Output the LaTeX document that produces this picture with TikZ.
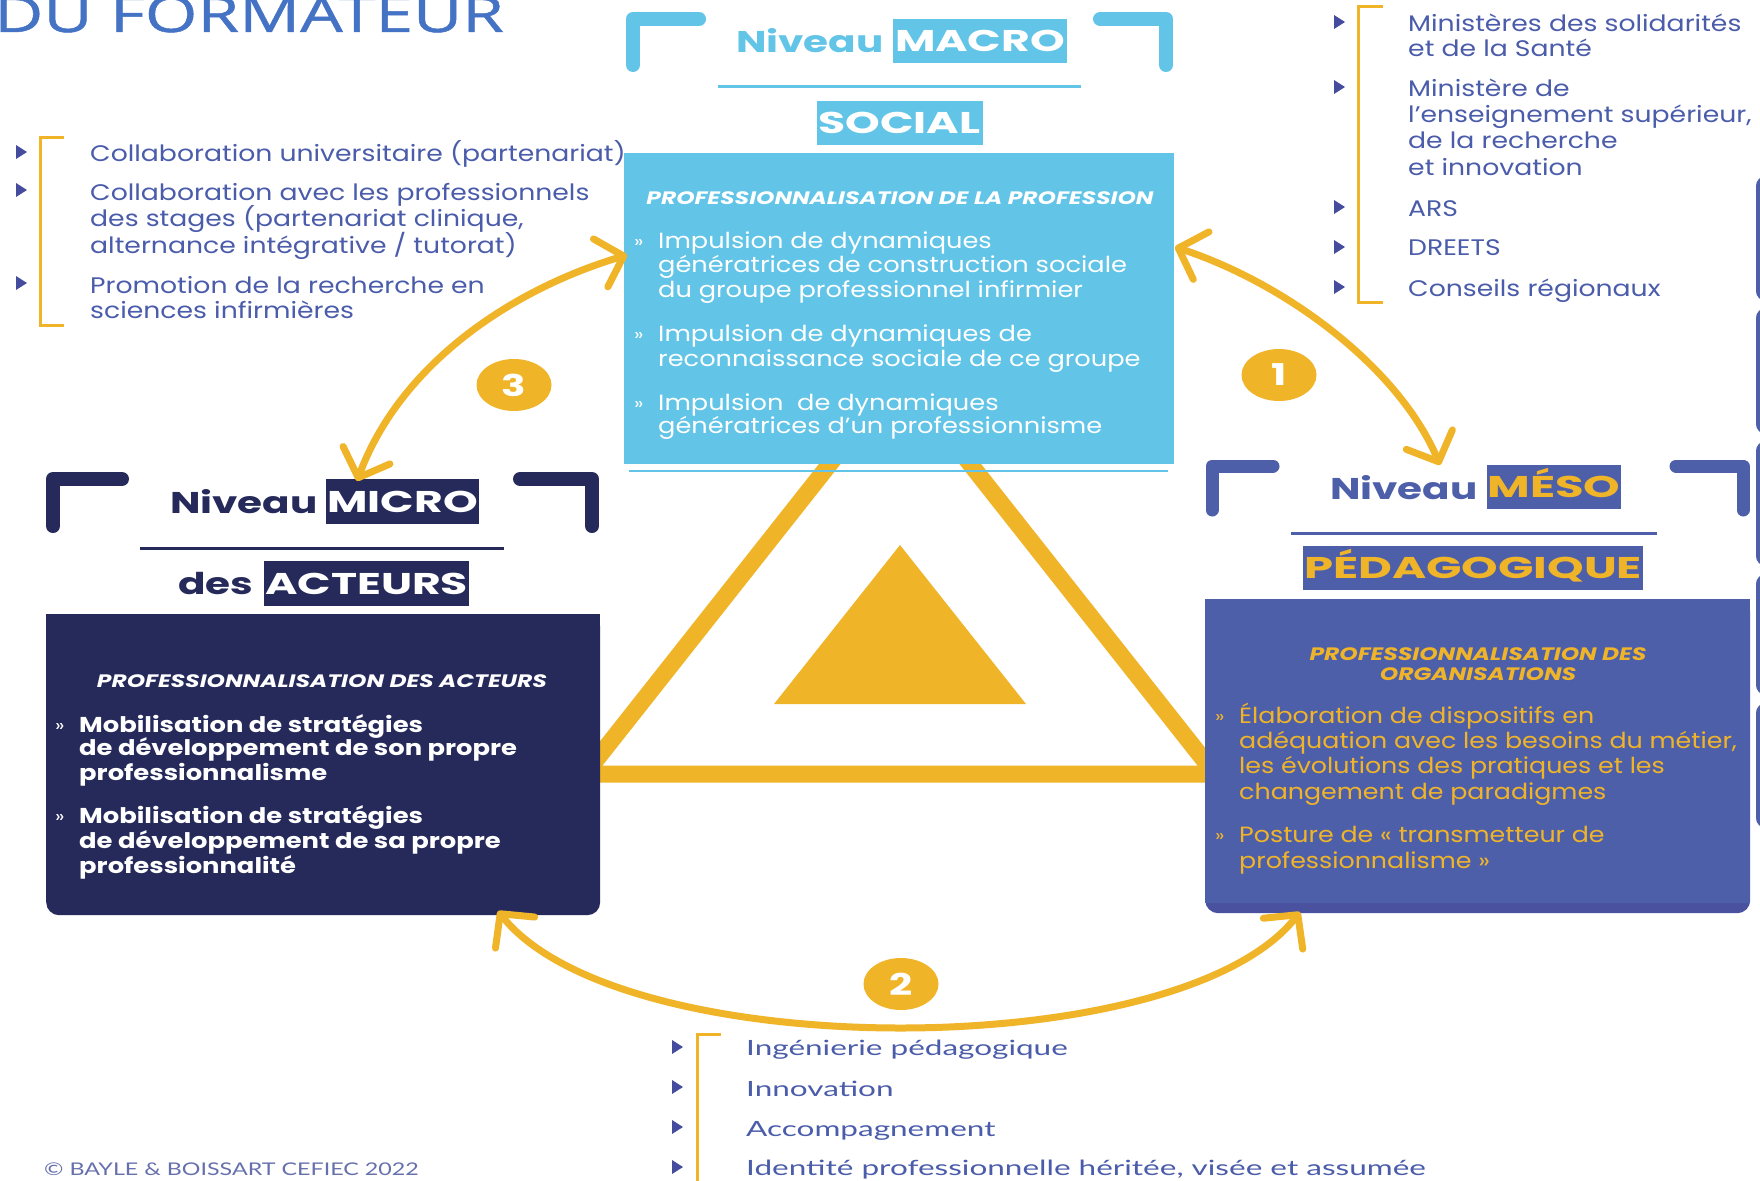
\documentclass[tikz,border=0pt]{standalone}
\usepackage{fontspec}
\setmainfont{Poppins}
\newfontfamily\pL{Poppins}[FakeStretch=1.185]
\newfontfamily\pC{Poppins}[FakeStretch=1.166]
\newfontfamily\pM{Poppins}[FakeStretch=1.15]
\newfontfamily\pB{Poppins}[FakeStretch=1.2]
\newfontfamily\pH{Poppins}[FakeStretch=1.35]
\newfontfamily\pT{Poppins}[FakeStretch=1.3]
\newfontfamily\pX{Poppins}[FakeStretch=1.47]
\newfontfamily\pY{Poppins}[FakeStretch=1.55]
\newfontfamily\lato{Lato}[FakeStretch=1.5]
\newfontfamily\latoc{Lato}[FakeStretch=1.33]
\newfontfamily\opens{Open Sans}[FakeStretch=1.35,FakeBold=1]
\usetikzlibrary{arrows.meta,shapes.geometric}
\definecolor{cyanM}{HTML}{62C4E6}
\definecolor{navyM}{HTML}{252A5A}
\definecolor{mesoB}{HTML}{4E5FAA}
\definecolor{mesoD}{HTML}{4A52A0}
\definecolor{yel}{HTML}{F0B429}
\definecolor{txtB}{HTML}{4A5CAA}
\definecolor{markC}{HTML}{454C9E}
\definecolor{titleB}{HTML}{4472C4}
\definecolor{copyB}{HTML}{6670AD}
\newcommand\lmark[2]{\fill[markC] (#1-5,#2-7) -- (#1+6,#2) -- (#1-5,#2+7) -- cycle;}
\begin{document}
\begin{tikzpicture}[x=1pt,y=-1pt,
  every node/.style={inner sep=0pt},
  lst/.style={anchor=base west, text=txtB, font=\pL\fontsize{22.5}{27}\selectfont},
  blst/.style={anchor=base west, text=txtB, font=\lato\fontsize{21}{25}\selectfont},
  cyt/.style={anchor=base west, text=white, font=\pC\fontsize{22}{26}\selectfont},
  mit/.style={anchor=base west, text=white, font=\pB\bfseries\fontsize{21.5}{26}\selectfont},
  met/.style={anchor=base west, text=yel, font=\pM\fontsize{22}{26}\selectfont},
  bul/.style={anchor=base west, font=\pB\fontsize{17}{20}\selectfont},
  boxhead/.style={anchor=base, font=\pT\bfseries\itshape\fontsize{18}{20}\selectfont},
  niv/.style={anchor=base west, font=\pH\bfseries\fontsize{30}{36}\selectfont},
  hl/.style={font=\pX\bfseries\fontsize{30}{36}\selectfont, text height=21pt, text depth=0pt},
  hlw/.style={font=\pY\bfseries\fontsize{30}{36}\selectfont, text height=21pt, text depth=0pt},
  brk/.style={line width=14pt, line cap=round, line join=round},
  lbrk/.style={yel, line width=3pt},
  arr/.style={yel, line width=7pt, {Straight Barb[length=24pt,width=50pt,round]}-{Straight Barb[length=24pt,width=50pt,round]}},
  num/.style={ellipse, fill=yel, minimum width=75pt, minimum height=52pt, text=white, font=\pH\bfseries\fontsize{30}{30}\selectfont},
]
\useasboundingbox (0,0) rectangle (1760,1180);
\clip (0,0) rectangle (1760,1180);
\fill[white] (0,0) rectangle (1760,1180);

% title
\node[anchor=base west, text=titleB, font=\opens\fontsize{50}{52}\selectfont] (title) at (-6,32) {DU FORMATEUR};

% big triangle
\draw[yel, line width=17pt, line join=miter] (900,375) -- (585,774) -- (1215,774) -- cycle;
\fill[yel] (900,545) -- (1026,704) -- (774,704) -- cycle;

% right edge slivers
\foreach \ya/\yb in {178/299,310/432,443/564,576/693,705/826}
  \draw[mesoB, line width=4pt, rounded corners=8pt] (1790,\ya) -- (1758,\ya) -- (1758,\yb) -- (1790,\yb);

% ---------- MACRO ----------
\draw[cyanM, brk] (633,65) -- (633,19) -- (699,19);
\draw[cyanM, brk] (1100,19) -- (1166,19) -- (1166,65);
\node[niv, text=cyanM] (macroniv) at (736,53) {Niveau};
\node[hl, fill=cyanM, text=white, minimum width=174pt, minimum height=44pt] (macrohl) at (980,41) {MACRO};
\draw[cyanM, line width=3pt] (718,87) -- (1081,87);
\node[hl, fill=cyanM, text=white, minimum width=166pt, minimum height=44pt] (social) at (899.5,123) {SOCIAL};
\node[fill=cyanM, anchor=north west, minimum width=550pt, minimum height=311pt] (macrobox) at (624,153) {};
\draw[cyanM, line width=2pt] (629,471) -- (1168,471);
\node[boxhead, text=white] (mh) at (900,204) {PROFESSIONNALISATION DE LA PROFESSION};
\node[bul, text=white] (mb1) at (634,247) {»};
\node[bul, text=white] (mb2) at (634,340) {»};
\node[bul, text=white] (mb3) at (634,409) {»};
\node[cyt] (m1) at (658,248) {Impulsion de dynamiques};
\node[cyt] (m2) at (658,272) {génératrices de construction sociale};
\node[cyt] (m3) at (658,297) {du groupe professionnel infirmier};
\node[cyt] (m4) at (658,341) {Impulsion de dynamiques de};
\node[cyt] (m5) at (658,366) {reconnaissance sociale de ce groupe};
\node[cyt] (m6) at (658,410) {Impulsion\ \ de dynamiques};
\node[cyt] (m7) at (658,433) {génératrices d’un professionnisme};

% ---------- MICRO ----------
\draw[navyM, brk] (53,526) -- (53,479) -- (122,479);
\draw[navyM, brk] (520,479) -- (592,479) -- (592,526);
\node[niv, text=navyM] (microniv) at (170,513) {Niveau};
\node[hl, fill=navyM, text=white, minimum width=153pt, minimum height=45pt] (microhl) at (402.5,501.5) {MICRO};
\draw[navyM, line width=3pt] (140,548) -- (504,548);
\node[niv, text=navyM] (des) at (178,594) {des};
\node[hl, fill=navyM, text=white, minimum width=205pt, minimum height=45pt] (acteurs) at (366.5,583.5) {ACTEURS};
\node[fill=navyM, rounded corners=13pt, anchor=north west, minimum width=554pt, minimum height=301pt] (microbox) at (46,614) {};
\fill[navyM] (microbox.north west) rectangle ([yshift=-40pt]microbox.north east);
\node[boxhead, text=white] (ih) at (322,687) {PROFESSIONNALISATION DES ACTEURS};
\node[bul, text=white] (ib1) at (55,731) {»};
\node[bul, text=white] (ib2) at (55,822) {»};
\node[mit] (i1) at (79,732) {Mobilisation de stratégies};
\node[mit] (i2) at (79,755) {de développement de son propre};
\node[mit] (i3) at (79,780) {professionnalisme};
\node[mit] (i4) at (79,823) {Mobilisation de stratégies};
\node[mit] (i5) at (79,848) {de développement de sa propre};
\node[mit] (i6) at (79,873) {professionnalité};

% ---------- MESO ----------
\draw[mesoB, brk, line width=13pt] (1212,510) -- (1212,466) -- (1273,466);
\draw[mesoB, brk, line width=13pt] (1676,466) -- (1743,466) -- (1743,510);
\node[niv, text=mesoB] (mesoniv) at (1330,499) {Niveau};
\node[hlw, fill=mesoB, text=yel, minimum width=134pt, minimum height=44pt] (mesohl) at (1554,487) {MÉSO};
\draw[mesoB, line width=3pt] (1291,533) -- (1657,533);
\node[hlw, fill=mesoB, text=yel, minimum width=340pt, minimum height=44pt] (peda) at (1473,568) {PÉDAGOGIQUE};
\node[fill=mesoD, rounded corners=13pt, anchor=north west, minimum width=545pt, minimum height=314pt] (mesobox) at (1205,599) {};
\fill[mesoB] (mesobox.north west) rectangle ([yshift=10pt]mesobox.south east);
\node[boxhead, text=yel] (eh1) at (1478,660) {PROFESSIONNALISATION DES};
\node[boxhead, text=yel] (eh2) at (1478,680) {ORGANISATIONS};
\node[bul, text=yel] (eb1) at (1215,722) {»};
\node[bul, text=yel] (eb2) at (1215,841) {»};
\node[met] (e1) at (1239,723) {Élaboration de dispositifs en};
\node[met] (e2) at (1239,748) {adéquation avec les besoins du métier,};
\node[met] (e3) at (1239,773) {les évolutions des pratiques et les};
\node[met] (e4) at (1239,799) {changement de paradigmes};
\node[met] (e5) at (1239,842) {Posture de « transmetteur de};
\node[met] (e6) at (1239,868) {professionnalisme »};

% ---------- left list ----------
\draw[lbrk] (64,137) -- (40,137) -- (40,325) -- (64,325);
\lmark{21}{152}\lmark{21}{190}\lmark{21}{283}
\node[lst] (l1) at (90,161) {Collaboration universitaire (partenariat)};
\node[lst] (l2) at (90,200) {Collaboration avec les professionnels};
\node[lst] (l3) at (90,226) {des stages (partenariat clinique,};
\node[lst] (l4) at (90,253) {alternance intégrative / tutorat)};
\node[lst] (l5) at (90,293) {Promotion de la recherche en};
\node[lst] (l6) at (90,318) {sciences infirmières};

% ---------- right list ----------
\draw[lbrk] (1383,7) -- (1358,7) -- (1358,302) -- (1383,302);
\lmark{1339}{22}\lmark{1339}{87}\lmark{1339}{207}\lmark{1339}{247}\lmark{1339}{287}
\node[lst] (r1) at (1408,32) {Ministères des solidarités};
\node[lst] (r2) at (1408,57) {et de la Santé};
\node[lst] (r3) at (1408,97) {Ministère de};
\node[lst] (r4) at (1408,123) {l’enseignement supérieur,};
\node[lst] (r5) at (1408,148) {de la recherche};
\node[lst] (r6) at (1408,175) {et innovation};
\node[lst] (r7) at (1408,216) {ARS};
\node[lst] (r8) at (1408,255) {DREETS};
\node[lst] (r9) at (1408,296) {Conseils régionaux};

% ---------- bottom list ----------
\draw[lbrk] (721,1034) -- (697,1034) -- (697,1190);
\lmark{677}{1047}\lmark{677}{1087}\lmark{677}{1127}\lmark{677}{1167}
\node[blst] (b1) at (746,1055) {Ingénierie pédagogique};
\node[blst] (b2) at (746,1096) {Innovation};
\node[blst] (b3) at (746,1136) {Accompagnement};
\node[blst] (b4) at (746,1175) {Identité professionnelle héritée, visée et assumée};

\node[anchor=base west, text=copyB, font=\latoc\fontsize{17.5}{20}\selectfont] (copy) at (44,1175) {© BAYLE \& BOISSART CEFIEC 2022};

% ---------- arrows ----------
\coordinate (a1s) at (1175,247);
\coordinate (a1e) at (1440,465);
\coordinate (a3s) at (627,255);
\coordinate (a3e) at (357,481);
\coordinate (a2s) at (498,911);
\coordinate (a2e) at (1300,912);
\draw[arr] (a1s) .. controls (1290,285) and (1400,370) .. (a1e);
\draw[arr] (a3s) .. controls (510,290) and (400,365) .. (a3e);
\draw[arr] (a2s) .. controls (620,1065) and (1180,1065) .. (a2e);

\node[num] (n1) at (1279,375) {1};
\node[num] (n2) at (901,984) {2};
\node[num] (n3) at (514,385) {3};
\end{tikzpicture}
\end{document}
